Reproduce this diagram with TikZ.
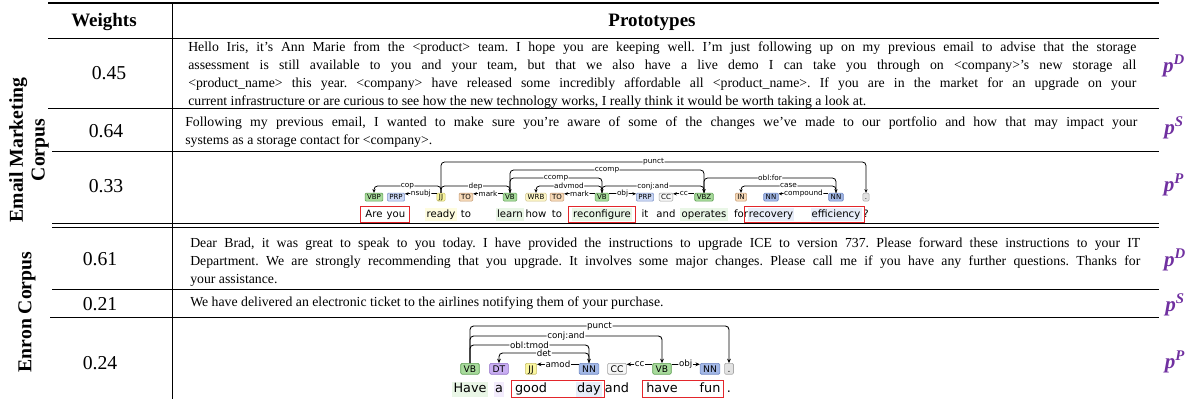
\documentclass[tikz,border=0pt]{standalone}
\usepackage{fontspec}
\setmainfont{Liberation Serif}
\newfontfamily\depfont{DejaVu Sans}
\usetikzlibrary{arrows.meta, positioning, fit}
\frenchspacing

\definecolor{protoc}{HTML}{7030A0}
\definecolor{verbf}{HTML}{A8DB9C}
\definecolor{verbd}{HTML}{5E9E52}
\definecolor{prpf}{HTML}{CCD8F4}
\definecolor{prpd}{HTML}{8398CC}
\definecolor{adjf}{HTML}{FBF7A0}
\definecolor{adjd}{HTML}{C9C06A}
\definecolor{tof}{HTML}{F6D9B8}
\definecolor{tod}{HTML}{C49A72}
\definecolor{wrbf}{HTML}{FCF5C6}
\definecolor{wrbd}{HTML}{CFC48C}
\definecolor{ccf}{HTML}{F7F7F7}
\definecolor{ccd}{HTML}{A0A0A0}
\definecolor{nnf}{HTML}{A3B8E6}
\definecolor{nnd}{HTML}{6D86C2}
\definecolor{dtf}{HTML}{C9AEF2}
\definecolor{dtd}{HTML}{8E6CC6}
\definecolor{pctf}{HTML}{E2E2E2}
\definecolor{pctd}{HTML}{A8A8A8}
\definecolor{boxred}{HTML}{E3262B}

\newcommand{\ptag}[1]{p\textsuperscript{#1}}

\tikzset{
    rule/.style = {line width=0.25mm},
    toprule/.style = {line width=0.4mm},
    head/.style = {anchor=base, font=\bfseries\fontsize{13.5}{14}\selectfont},
    wgt/.style = {anchor=base, font=\fontsize{14}{14}\selectfont},
    para/.style = {anchor=north west, inner sep=0pt, text width=237mm, align=justify,
        font=\fontsize{9.8}{12.8}\selectfont},
    corpus/.style = {rotate=90, align=center, font=\bfseries\fontsize{14}{15.6}\selectfont},
    proto/.style = {text=protoc, font=\bfseries\itshape\fontsize{15}{15}\selectfont},
    % first parse
    word/.style = {anchor=base, inner sep=0.3mm, text height=1.93mm, text depth=0.6mm,
        font=\depfont\fontsize{7.2}{7.2}\selectfont},
    tag/.style = {draw, rounded corners=0.3mm, line width=0.15mm, inner xsep=0.5mm,
        inner ysep=0.35mm, text height=1.3mm, text depth=0pt,
        font=\depfont\fontsize{5}{5}\selectfont},
    lbl/.style = {fill=white, inner sep=0.15mm, pos=.75, font=\depfont\fontsize{5.2}{5.2}\selectfont},
    arc/.style = {line width=0.2mm, rounded corners=0.9mm, -{Stealth[length=0.9mm, width=0.8mm]}},
    % second parse
    wordb/.style = {word, text height=2.43mm, text depth=0.7mm,
        font=\depfont\fontsize{9.1}{9.1}\selectfont},
    tagb/.style = {tag, inner xsep=0.75mm, inner ysep=0.55mm, text height=1.6mm,
        font=\depfont\fontsize{6.5}{6.5}\selectfont},
    lblb/.style = {lbl, font=\depfont\fontsize{6.2}{6.2}\selectfont},
    arcb/.style = {arc, line width=0.22mm, -{Stealth[length=1.1mm, width=0.95mm]}},
    lvl/.style = {to path={(\tikztostart) |- (\tikztotarget |- 0,#1) \tikztonodes -- (\tikztotarget)}},
    verb/.style = {fill=verbf, draw=verbd},
    prp/.style = {fill=prpf, draw=prpd},
    adj/.style = {fill=adjf, draw=adjd},
    part/.style = {fill=tof, draw=tod},
    wrb/.style = {fill=wrbf, draw=wrbd},
    conj/.style = {fill=ccf, draw=ccd},
    noun/.style = {fill=nnf, draw=nnd},
    det/.style = {fill=dtf, draw=dtd},
    pct/.style = {fill=pctf, draw=pctd},
    redbox/.style = {draw=boxred, line width=0.25mm, inner xsep=0.8mm, inner ysep=0.4mm},
}

\begin{document}
\begin{tikzpicture} [x=0.25mm, y=-0.25mm]
    \useasboundingbox (0,0) rectangle (1192,399);

    % table rules
    \draw [toprule] (48,3) -- (1159,3);
    \draw [rule] (48,38) -- (1159,38);
    \draw [rule] (48,108) -- (1159,108);
    \draw [rule] (52,151.5) -- (1159,151.5);
    \draw [rule] (52,223.3) -- (1159,223.3);
    \draw [rule] (52,227.3) -- (1159,227.3);
    \draw [rule] (52,289.3) -- (1159,289.3);
    \draw [rule] (50,317.7) -- (1159,317.7);
    \draw [rule] (172,3) -- (172,399);

    \node (hw) [head] at (104,26) {Weights};
    \node (hp) [head] at (652,26) {Prototypes};

    \node (ce) [corpus] at (29,150) {Email Marketing\\Corpus};
    \node (cn) [corpus] at (27,312) {Enron Corpus};

    \node (n1) [wgt] at (109,79) {0.45};
    \node (n2) [wgt] at (106,137) {0.64};
    \node (n3) [wgt] at (106,192) {0.33};
    \node (n4) [wgt] at (100,265) {0.61};
    \node (n5) [wgt] at (100,310) {0.21};
    \node (n6) [wgt] at (100,369) {0.24};

    \node (pd1) [para] at (188,38.6) {\strut Hello Iris, it’s Ann Marie from the <product> team. I hope you are keeping well. I’m just following up on my previous email to advise that the storage\linebreak assessment is still available to you and your team, but that we also have a live demo I can take you through on <company>’s new storage all\linebreak <product\_name> this year. <company> have released some incredibly affordable all <product\_name>. If you are in the market for an upgrade on your\linebreak current infrastructure or are curious to see how the new technology works, I really think it would be worth taking a look at.};
    \node (ps1) [para, text width=238mm] at (185,113.6) {\strut Following my previous email, I wanted to make sure you’re aware of some of the changes we’ve made to our portfolio and how that may impact your\linebreak systems as a storage contact for <company>.};
    \node (pd2) [para, text width=237.5mm] at (190,234.6) {\strut Dear Brad, it was great to speak to you today. I have provided the instructions to upgrade ICE to version 737. Please forward these instructions to your IT\linebreak Department. We are strongly recommending that you upgrade. It involves some major changes. Please call me if you have any further questions. Thanks for\linebreak your assistance.};
    \node (ps2) [para] at (190,293.6) {\strut We have delivered an electronic ticket to the airlines notifying them of your purchase.};

    \node (m1) [proto] at (1174,66) {\ptag{D}};
    \node (m2) [proto] at (1174,128) {\ptag{S}};
    \node (m3) [proto] at (1174,185) {\ptag{P}};
    \node (m4) [proto] at (1175,260) {\ptag{D}};
    \node (m5) [proto] at (1175,305) {\ptag{S}};
    \node (m6) [proto] at (1175,362) {\ptag{P}};

    % parse: Are you ready to learn ...
    \node (w1) [word] at (374,217) {Are};
    \node (w2) [word] at (396,217) {you};
    \node (w3) [word, fill=adjf!35] at (441,217) {ready};
    \node (w4) [word] at (466,217) {to};
    \node (w5) [word, fill=verbf!25] at (510,217) {learn};
    \node (w6) [word] at (536,217) {how};
    \node (w7) [word] at (557,217) {to};
    \node (w8) [word, fill=verbf!25] at (602,217) {reconfigure};
    \node (w9) [word] at (645,217) {it};
    \node (w10) [word] at (666,217) {and};
    \node (w11) [word, fill=verbf!25] at (704,217) {operates};
    \node (w12) [word] at (741,217) {for};
    \node (w13) [word, fill=nnf!25] at (771,217) {recovery};
    \node (w14) [word, fill=nnf!25] at (836,217) {efficiency};
    \node (w15) [word] at (866,217) {?};

    \node (t1) [tag, verb, above=1.6mm of w1] {VBP};
    \node (t2) [tag, prp, above=1.6mm of w2] {PRP};
    \node (t3) [tag, adj, above=1.6mm of w3] {JJ};
    \node (t4) [tag, part, above=1.6mm of w4] {TO};
    \node (t5) [tag, verb, above=1.6mm of w5] {VB};
    \node (t6) [tag, wrb, above=1.6mm of w6] {WRB};
    \node (t7) [tag, part, above=1.6mm of w7] {TO};
    \node (t8) [tag, verb, above=1.6mm of w8] {VB};
    \node (t9) [tag, prp, above=1.6mm of w9] {PRP};
    \node (t10) [tag, conj, above=1.6mm of w10] {CC};
    \node (t11) [tag, verb, above=1.6mm of w11] {VBZ};
    \node (t12) [tag, part, above=1.6mm of w12] {IN};
    \node (t13) [tag, noun, above=1.6mm of w13] {NN};
    \node (t14) [tag, noun, above=1.6mm of w14] {NN};
    \node (t15) [tag, pct, above=1.6mm of w15] {.};

    \path [arc]
    (t3.north) edge [lvl=186] node [lbl] {cop} (t1.north)
    ([yshift=-0.25mm]t3.north west) edge node [lbl, pos=.5] {nsubj} ([yshift=-0.25mm]t2.north east)
    (t3.north) edge [lvl=186] node [lbl] {dep} (t5.north)
    ([yshift=-0.25mm]t5.north west) edge node [lbl, pos=.5] {mark} ([yshift=-0.25mm]t4.north east)
    (t5.north) edge [lvl=178] node [lbl] {ccomp} (t8.north)
    (t5.north) edge [lvl=170] node [lbl] {ccomp} (t11.north)
    (t3.north) edge [lvl=162] node [lbl] {punct} (t15.north)
    (t8.north) edge [lvl=186] node [lbl] {advmod} (t6.north)
    ([yshift=-0.25mm]t8.north west) edge node [lbl, pos=.5] {mark} ([yshift=-0.25mm]t7.north east)
    ([yshift=-0.25mm]t8.north east) edge node [lbl, pos=.5] {obj} ([yshift=-0.25mm]t9.north west)
    (t8.north) edge [lvl=186] node [lbl] {conj:and} (t11.north)
    ([yshift=-0.25mm]t11.north west) edge node [lbl, pos=.5] {cc} ([yshift=-0.25mm]t10.north east)
    (t11.north) edge [lvl=178] node [lbl] {obl:for} (t14.north)
    (t14.north) edge [lvl=186] node [lbl] {case} (t12.north)
    ([yshift=-0.25mm]t14.north west) edge node [lbl, pos=.5] {compound} ([yshift=-0.25mm]t13.north east);

    \node (r1) [redbox, fit=(w1) (w2)] {};
    \node (r2) [redbox, fit=(w8)] {};
    \node (r3) [redbox, fit=(w13) (w14)] {};

    % parse: Have a good day and have fun .
    \node (h1) [wordb, fill=verbf!25] at (470,392.5) {Have};
    \node (h2) [wordb, fill=dtf!25] at (499,392.5) {a};
    \node (h3) [wordb] at (531,392.5) {good};
    \node (h4) [wordb, fill=nnf!25] at (589,392.5) {day};
    \node (h5) [wordb] at (617,392.5) {and};
    \node (h6) [wordb] at (662,392.5) {have};
    \node (h7) [wordb] at (710,392.5) {fun};
    \node (h8) [wordb] at (729,392.5) {.};

    \node (g1) [tagb, verb, above=1.7mm of h1] {VB};
    \node (g2) [tagb, det, above=1.7mm of h2] {DT};
    \node (g3) [tagb, adj, above=1.7mm of h3] {JJ};
    \node (g4) [tagb, noun, above=1.7mm of h4] {NN};
    \node (g5) [tagb, conj, above=1.7mm of h5] {CC};
    \node (g6) [tagb, verb, above=1.7mm of h6] {VB};
    \node (g7) [tagb, noun, above=1.7mm of h7] {NN};
    \node (g8) [tagb, pct, above=1.7mm of h8] {.};

    \path [arcb]
    (g1.north) edge [lvl=326] node [lblb] {punct} (g8.north)
    (g1.north) edge [lvl=336] node [lblb] {conj:and} (g6.north)
    (g1.north) edge [lvl=345] node [lblb] {obl:tmod} (g4.north)
    (g4.north) edge [lvl=353] node [lblb] {det} (g2.north)
    ([yshift=-0.3mm]g4.north west) edge node [lblb, pos=.5] {amod} ([yshift=-0.3mm]g3.north east)
    ([yshift=-0.3mm]g6.north west) edge node [lblb, pos=.5] {cc} ([yshift=-0.3mm]g5.north east)
    ([yshift=-0.3mm]g6.north east) edge node [lblb, pos=.5] {obj} ([yshift=-0.3mm]g7.north west);

    \node (r4) [redbox, inner xsep=0.5mm, inner ysep=0.2mm, fit=(h3) (h4)] {};
    \node (r5) [redbox, inner xsep=0.5mm, inner ysep=0.2mm, fit=(h6) (h7)] {};

\end{tikzpicture}
\end{document}
